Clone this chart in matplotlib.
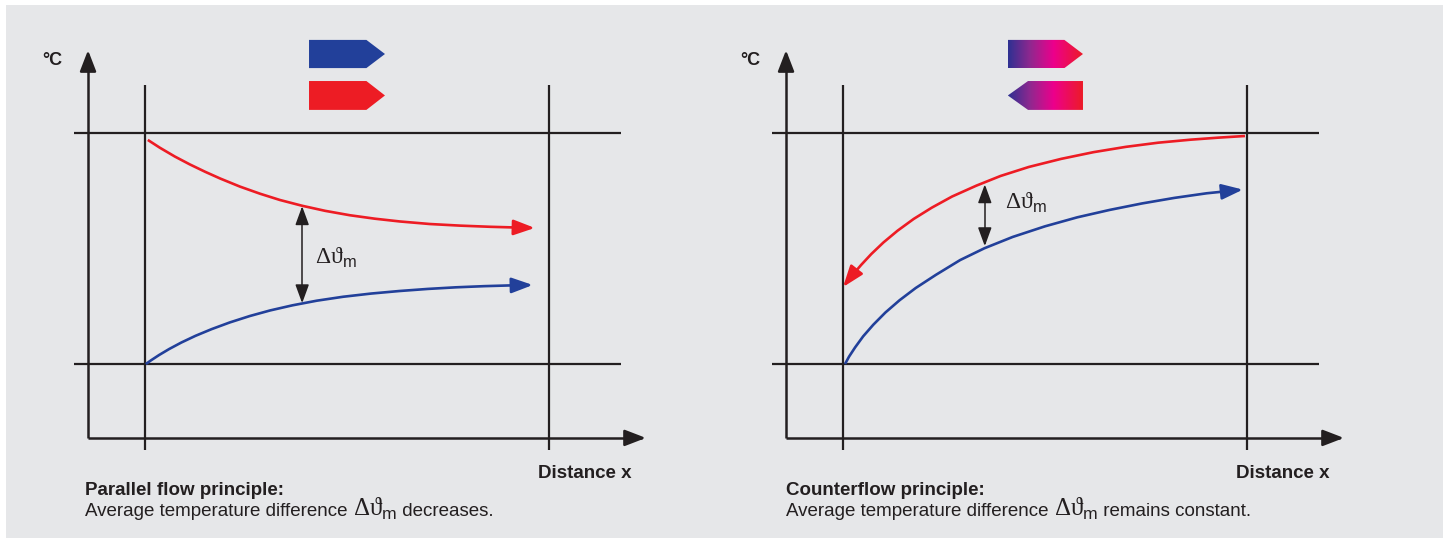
import numpy as np
import matplotlib
matplotlib.use("Agg")
import matplotlib.pyplot as plt
from matplotlib.path import Path
from matplotlib.patches import FancyArrowPatch, Polygon, Rectangle
from matplotlib.colors import LinearSegmentedColormap

plt.rcParams['font.family'] = ['Liberation Sans', 'DejaVu Sans']
plt.rcParams['mathtext.fontset'] = 'custom'
plt.rcParams['mathtext.rm'] = 'Liberation Serif'
plt.rcParams['mathtext.sf'] = 'Liberation Sans'
plt.rcParams['mathtext.fallback'] = 'stix'

# ====== data: distance in % of exchanger length, temperature in % of range ======
# parallel flow
par_hot_x = [0.7, 3.7, 7.4, 11.1, 14.9, 18.6, 23.5, 28.5, 33.4, 38.9, 44.6, 50.7, 56.9,
             63.1, 70.5, 78.0, 85.4, 91.6, 96.5]
par_hot_t = [97.0, 93.6, 89.8, 86.4, 83.2, 80.3, 76.8, 73.7, 71.0, 68.5, 66.3, 64.4, 62.9,
             61.7, 60.6, 59.9, 59.4, 59.1, 58.9]
par_cold_x = [0.2, 1.5, 3.5, 6.0, 9.0, 12.5, 16.5, 21.0, 26.0, 31.0, 36.5, 42.5, 49.0,
              56.0, 63.0, 70.0, 77.0, 84.0, 90.0, 96.0]
par_cold_t = [0.0, 1.6, 3.9, 6.5, 9.3, 12.2, 15.1, 18.0, 20.8, 23.2, 25.4, 27.4, 29.1,
              30.5, 31.6, 32.5, 33.2, 33.7, 34.0, 34.2]
par_delta_x = 38.9
par_delta_t = [68.3, 26.3]

# counterflow (hot side enters at the right end)
cnt_hot_x = [99.5, 93.0, 86.0, 78.0, 70.0, 62.0, 54.0, 46.0, 39.0, 33.0, 27.0, 22.0, 17.5,
             13.5, 10.0, 7.0, 4.5, 2.0, 0.0]
cnt_hot_t = [98.7, 98.0, 97.1, 95.8, 94.0, 91.7, 88.8, 85.3, 81.4, 77.2, 72.5, 67.7, 62.8,
             57.7, 52.6, 47.6, 42.9, 37.8, 33.3]
cnt_cold_x = [0.5, 1.5, 3.0, 5.0, 7.5, 10.5, 14.0, 18.0, 23.0, 29.0, 35.0, 42.0, 50.0, 58.0,
              66.0, 74.0, 82.0, 90.0, 99.0]
cnt_cold_t = [0.0, 3.2, 7.2, 12.0, 17.0, 22.3, 27.6, 32.9, 38.6, 45.0, 50.1, 55.0, 59.6, 63.5,
              66.7, 69.5, 71.9, 73.9, 75.5]
cnt_delta_x = 35.1
cnt_delta_t = [77.8, 51.0]

DELTA = r'$\mathrm{\Delta\vartheta}_{\mathsf{m}}$'
titles = ["Parallel flow principle:", "Counterflow principle:"]
endings = [" decreases.", " remains constant."]
PREFIX = "Average temperature difference "

BLUE = '#22409a'
RED = '#ed1c24'
INK = '#231f20'
BG = '#e6e7e9'

W, H = 1449, 540
SX, SY = 4.04, 2.31   # pixels per data unit
X0, Y0 = 145, 364     # pixel position of inlet line / lower temperature line


def arrow(ax, pts, color, lw, style, hl, hw, z=3):
    p = FancyArrowPatch(path=Path(np.asarray(pts, float)),
                        arrowstyle='%s,head_length=%g,head_width=%g' % (style, hl, hw),
                        color=color, lw=lw, mutation_scale=1,
                        transform=ax.transData, zorder=z, joinstyle='round',
                        capstyle='butt')
    ax.add_patch(p)


def icon(ax, x0, x1, y0, y1, tip, facecolor=None, cmap=None):
    ym = (y0 + y1) / 2
    if tip == 'right':
        verts = [(x0, y1), (x1 - 4.6, y1), (x1, ym), (x1 - 4.6, y0), (x0, y0)]
    else:
        verts = [(x0 + 5.0, y1), (x1, y1), (x1, y0), (x0 + 5.0, y0), (x0, ym)]
    if cmap is None:
        ax.add_patch(Polygon(verts, closed=True, facecolor=facecolor, edgecolor='none', zorder=3))
    else:
        poly = Polygon(verts, closed=True, facecolor='none', edgecolor='none')
        ax.add_patch(poly)
        grad = np.linspace(0, 1, 256).reshape(1, -1)
        im = ax.imshow(grad, cmap=cmap, extent=[x0, x1, y0, y1], aspect='auto',
                       interpolation='bilinear', zorder=3)
        im.set_clip_path(poly)


def panel(ax, hot, cold, dx, dt, dlabel, title, ending, cap_x, counter):
    # axis arrows
    arrow(ax, [(-14.1, -32.0), (-14.1, 135.9)], INK, 1.8, '-|>', 13, 5)
    arrow(ax, [(-14.1, -32.0), (124.0, -32.0)], INK, 1.8, '-|>', 13, 5)
    # reference lines
    for v in (0, 100):
        ax.plot([-17.6, 117.8], [v, v], color=INK, lw=1.6, zorder=2, solid_capstyle='butt')
        ax.plot([v, v], [-37.2, 120.8], color=INK, lw=1.6, zorder=2, solid_capstyle='butt')
    # curves
    arrow(ax, list(zip(*hot)), RED, 1.9, '-|>', 13, 4.7, z=4)
    arrow(ax, list(zip(*cold)), BLUE, 1.9, '-|>', 13, 4.7, z=4)
    # temperature difference
    arrow(ax, [(dx, dt[0]), (dx, dt[1])], INK, 1.1, '<|-|>', 11.5, 4.2, z=5)
    ax.text(dlabel[0], dlabel[1], DELTA, fontsize=17, color=INK, ha='left', va='center')
    # labels
    ax.text(-23.0, 131.6, '°C', fontsize=13, fontweight='bold', color=INK,
            ha='center', va='center')
    ax.text(97.3, -47.2, 'Distance x', fontsize=13.5, fontweight='bold', color=INK,
            ha='left', va='center')
    ax.text(cap_x, -54.8, title, fontsize=13.5, fontweight='bold', color=INK,
            ha='left', va='center')
    t1 = ax.text(cap_x, -65.8, PREFIX, fontsize=13.5, color=INK, ha='left', va='baseline')
    t2 = ax.annotate(DELTA, xy=(1, -65.8), xycoords=(t1, 'data'), fontsize=18,
                     color=INK, ha='left', va='baseline')
    ax.annotate(ending, xy=(1, -65.8), xycoords=(t2, 'data'), fontsize=13.5,
                color=INK, ha='left', va='baseline')
    # flow direction icons
    if not counter:
        icon(ax, 40.6, 59.4, 128.1, 140.3, 'right', facecolor=BLUE)
        icon(ax, 40.6, 59.4, 110.0, 122.5, 'right', facecolor=RED)
    else:
        cm = LinearSegmentedColormap.from_list(
            'flow', [(0, '#2e3192'), (0.3, '#92278f'), (0.6, '#ec008c'), (1, '#ed1c24')])
        icon(ax, 40.8, 59.4, 128.1, 140.3, 'right', cmap=cm)
        icon(ax, 40.8, 59.4, 110.0, 122.5, 'left', cmap=cm)
    ax.set_xlim(-X0 / SX, (W / 2 - X0) / SX)
    ax.set_ylim((Y0 - H) / SY, Y0 / SY)
    ax.axis('off')


fig = plt.figure(figsize=(W / 100, H / 100), dpi=100, facecolor='white')
fig.patches.append(Rectangle((6 / W, 2 / H), (1443 - 6) / W, (538 - 5) / H,
                             transform=fig.transFigure, facecolor=BG,
                             edgecolor='none', zorder=-10))

ax1 = fig.add_axes([0, 0, 0.5, 1])
ax2 = fig.add_axes([698 / W, 0, 0.5, 1])
for a in (ax1, ax2):
    a.patch.set_visible(False)

panel(ax1, (par_hot_x, par_hot_t), (par_cold_x, par_cold_t), par_delta_x, par_delta_t,
      (42.1, 45.9), titles[0], endings[0], -14.9, False)
panel(ax2, (cnt_hot_x, cnt_hot_t), (cnt_cold_x, cnt_cold_t), cnt_delta_x, cnt_delta_t,
      (40.1, 69.7), titles[1], endings[1], -14.1, True)

fig.savefig('out.png', dpi=100, facecolor='white')
